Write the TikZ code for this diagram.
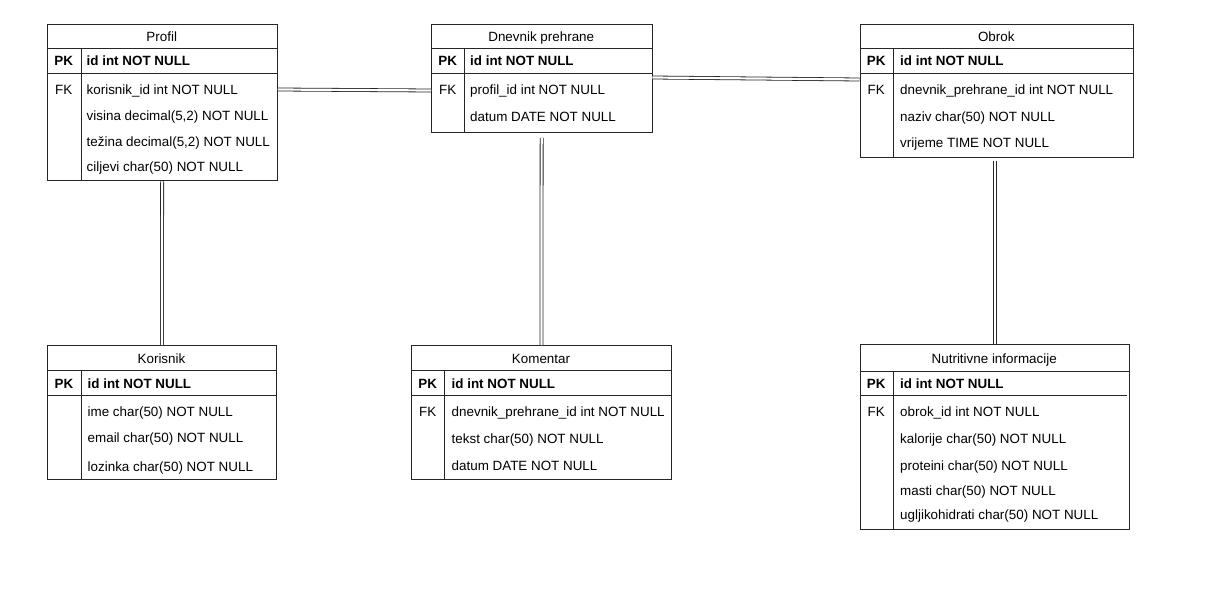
\documentclass[tikz,border=0pt]{standalone}
\usepackage{fontspec}
\setmainfont{Liberation Sans}
\usetikzlibrary{positioning}

\tikzset{
  every node/.style={font=\fontsize{13.4}{16}\selectfont},
  tbl/.style={draw=black!85, line width=0.8pt, anchor=north west, inner sep=0pt},
  rule/.style={draw=black!85, line width=0.8pt},
  ttl/.style={anchor=base, inner sep=0pt},
  key/.style={anchor=base, inner sep=0pt},
  fld/.style={anchor=base west, inner sep=0pt},
  pk/.style={font=\fontsize{13.4}{16}\selectfont\bfseries},
  rel/.style={double, double distance=2.2pt, line width=0.8pt, draw=black!85}
}

\begin{document}
\begin{tikzpicture}[x=1pt, y=-1pt]

  \fill[white] (0,0) rectangle (1223,604);
  \useasboundingbox (0,0) rectangle (1223,604);

  % Profil
  \node[tbl, minimum width=230.5pt, minimum height=156pt] (profil) at (46.5,24.5) {};
  \draw[rule] (46.5,48.5) -- (277,48.5);
  \draw[rule] (46.5,73) -- (277,73);
  \draw[rule] (81,48.5) -- (81,180.5);
  \node[ttl] (profil-t) at (161.75,42) {Profil};
  \node[key, pk] (profil-pk) at (63.75,65.5) {PK};
  \node[fld, pk] (profil-id) at (86.5,65.5) {id int NOT NULL};
  \node[key] (profil-fk) at (63.75,94.5) {FK};
  \node[fld] (profil-r1) at (86.5,94.5) {korisnik\_id int NOT NULL};
  \node[fld] (profil-r2) at (86.5,120.5) {visina decimal(5,2) NOT NULL};
  \node[fld] (profil-r3) at (86.5,146.5) {težina decimal(5,2) NOT NULL};
  \node[fld] (profil-r4) at (86.5,171.5) {ciljevi char(50) NOT NULL};

  % Dnevnik prehrane
  \node[tbl, minimum width=220.5pt, minimum height=107.5pt] (dnevnik) at (431,24.5) {};
  \draw[rule] (431,48.5) -- (651.5,48.5);
  \draw[rule] (431,73) -- (651.5,73);
  \draw[rule] (464.5,48.5) -- (464.5,132);
  \node[ttl] (dnevnik-t) at (541.25,42) {Dnevnik prehrane};
  \node[key, pk] (dnevnik-pk) at (447.75,66) {PK};
  \node[fld, pk] (dnevnik-id) at (470,66) {id int NOT NULL};
  \node[key] (dnevnik-fk) at (447.75,95) {FK};
  \node[fld] (dnevnik-r1) at (470,95) {profil\_id int NOT NULL};
  \node[fld] (dnevnik-r2) at (470,121.5) {datum DATE NOT NULL};

  % Obrok
  \node[tbl, minimum width=273.5pt, minimum height=132.5pt] (obrok) at (859.5,24.5) {};
  \draw[rule] (859.5,48.5) -- (1133,48.5);
  \draw[rule] (859.5,73) -- (1133,73);
  \draw[rule] (893,48.5) -- (893,157);
  \node[ttl] (obrok-t) at (996.25,42) {Obrok};
  \node[key, pk] (obrok-pk) at (876.25,66) {PK};
  \node[fld, pk] (obrok-id) at (900,66) {id int NOT NULL};
  \node[key] (obrok-fk) at (876.25,95) {FK};
  \node[fld] (obrok-r1) at (900,95) {dnevnik\_prehrane\_id int NOT NULL};
  \node[fld] (obrok-r2) at (900,121.5) {naziv char(50) NOT NULL};
  \node[fld] (obrok-r3) at (900,147.5) {vrijeme TIME NOT NULL};

  % Korisnik
  \node[tbl, minimum width=229pt, minimum height=134pt] (korisnik) at (47,345) {};
  \draw[rule] (47,370.5) -- (276,370.5);
  \draw[rule] (47,395) -- (276,395);
  \draw[rule] (81,370.5) -- (81,479);
  \node[ttl] (korisnik-t) at (161.5,363) {Korisnik};
  \node[key, pk] (korisnik-pk) at (64,388) {PK};
  \node[fld, pk] (korisnik-id) at (87.5,388) {id int NOT NULL};
  \node[fld] (korisnik-r1) at (87.5,416.5) {ime char(50) NOT NULL};
  \node[fld] (korisnik-r2) at (87.5,442) {email char(50) NOT NULL};
  \node[fld] (korisnik-r3) at (87.5,471) {lozinka char(50) NOT NULL};

  % Komentar
  \node[tbl, minimum width=260pt, minimum height=134pt] (komentar) at (411,345) {};
  \draw[rule] (411,370.5) -- (671,370.5);
  \draw[rule] (411,395) -- (671,395);
  \draw[rule] (444.5,370.5) -- (444.5,479);
  \node[ttl] (komentar-t) at (541,363) {Komentar};
  \node[key, pk] (komentar-pk) at (427.75,388) {PK};
  \node[fld, pk] (komentar-id) at (451.5,388) {id int NOT NULL};
  \node[key] (komentar-fk) at (427.75,416.5) {FK};
  \node[fld] (komentar-r1) at (451.5,416.5) {dnevnik\_prehrane\_id int NOT NULL};
  \node[fld] (komentar-r2) at (451.5,443) {tekst char(50) NOT NULL};
  \node[fld] (komentar-r3) at (451.5,470) {datum DATE NOT NULL};

  % Nutritivne informacije
  \node[tbl, minimum width=269.5pt, minimum height=185pt] (nutri) at (859.5,344) {};
  \draw[rule] (859.5,371) -- (1129,371);
  \draw[rule] (859.5,395) -- (1127,395);
  \draw[rule] (893,371) -- (893,529);
  \node[ttl] (nutri-t) at (994.25,363) {Nutritivne informacije};
  \node[key, pk] (nutri-pk) at (876.25,388) {PK};
  \node[fld, pk] (nutri-id) at (900,388) {id int NOT NULL};
  \node[key] (nutri-fk) at (876.25,416.5) {FK};
  \node[fld] (nutri-r1) at (900,416.5) {obrok\_id int NOT NULL};
  \node[fld] (nutri-r2) at (900,443) {kalorije char(50) NOT NULL};
  \node[fld] (nutri-r3) at (900,470) {proteini char(50) NOT NULL};
  \node[fld] (nutri-r4) at (900,495.5) {masti char(50) NOT NULL};
  \node[fld] (nutri-r5) at (900,519) {ugljikohidrati char(50) NOT NULL};

  % relations
  \coordinate (dnevnik-end) at ([yshift=-5pt]dnevnik.south);
  \coordinate (obrok-end) at ([yshift=-3pt]obrok.south);
  \draw[rel] ([yshift=-65pt]profil.north east) -- ([yshift=-66pt]dnevnik.north west);
  \draw[rel] ([yshift=-53pt]dnevnik.north east) -- ([yshift=-55pt]obrok.north west);
  \draw[rel] (profil.south) -- (korisnik.north);
  \draw[rel] (dnevnik-end) -- (komentar.north);
  \draw[rel] (nutri.north |- obrok-end) -- (nutri.north);

\end{tikzpicture}
\end{document}
